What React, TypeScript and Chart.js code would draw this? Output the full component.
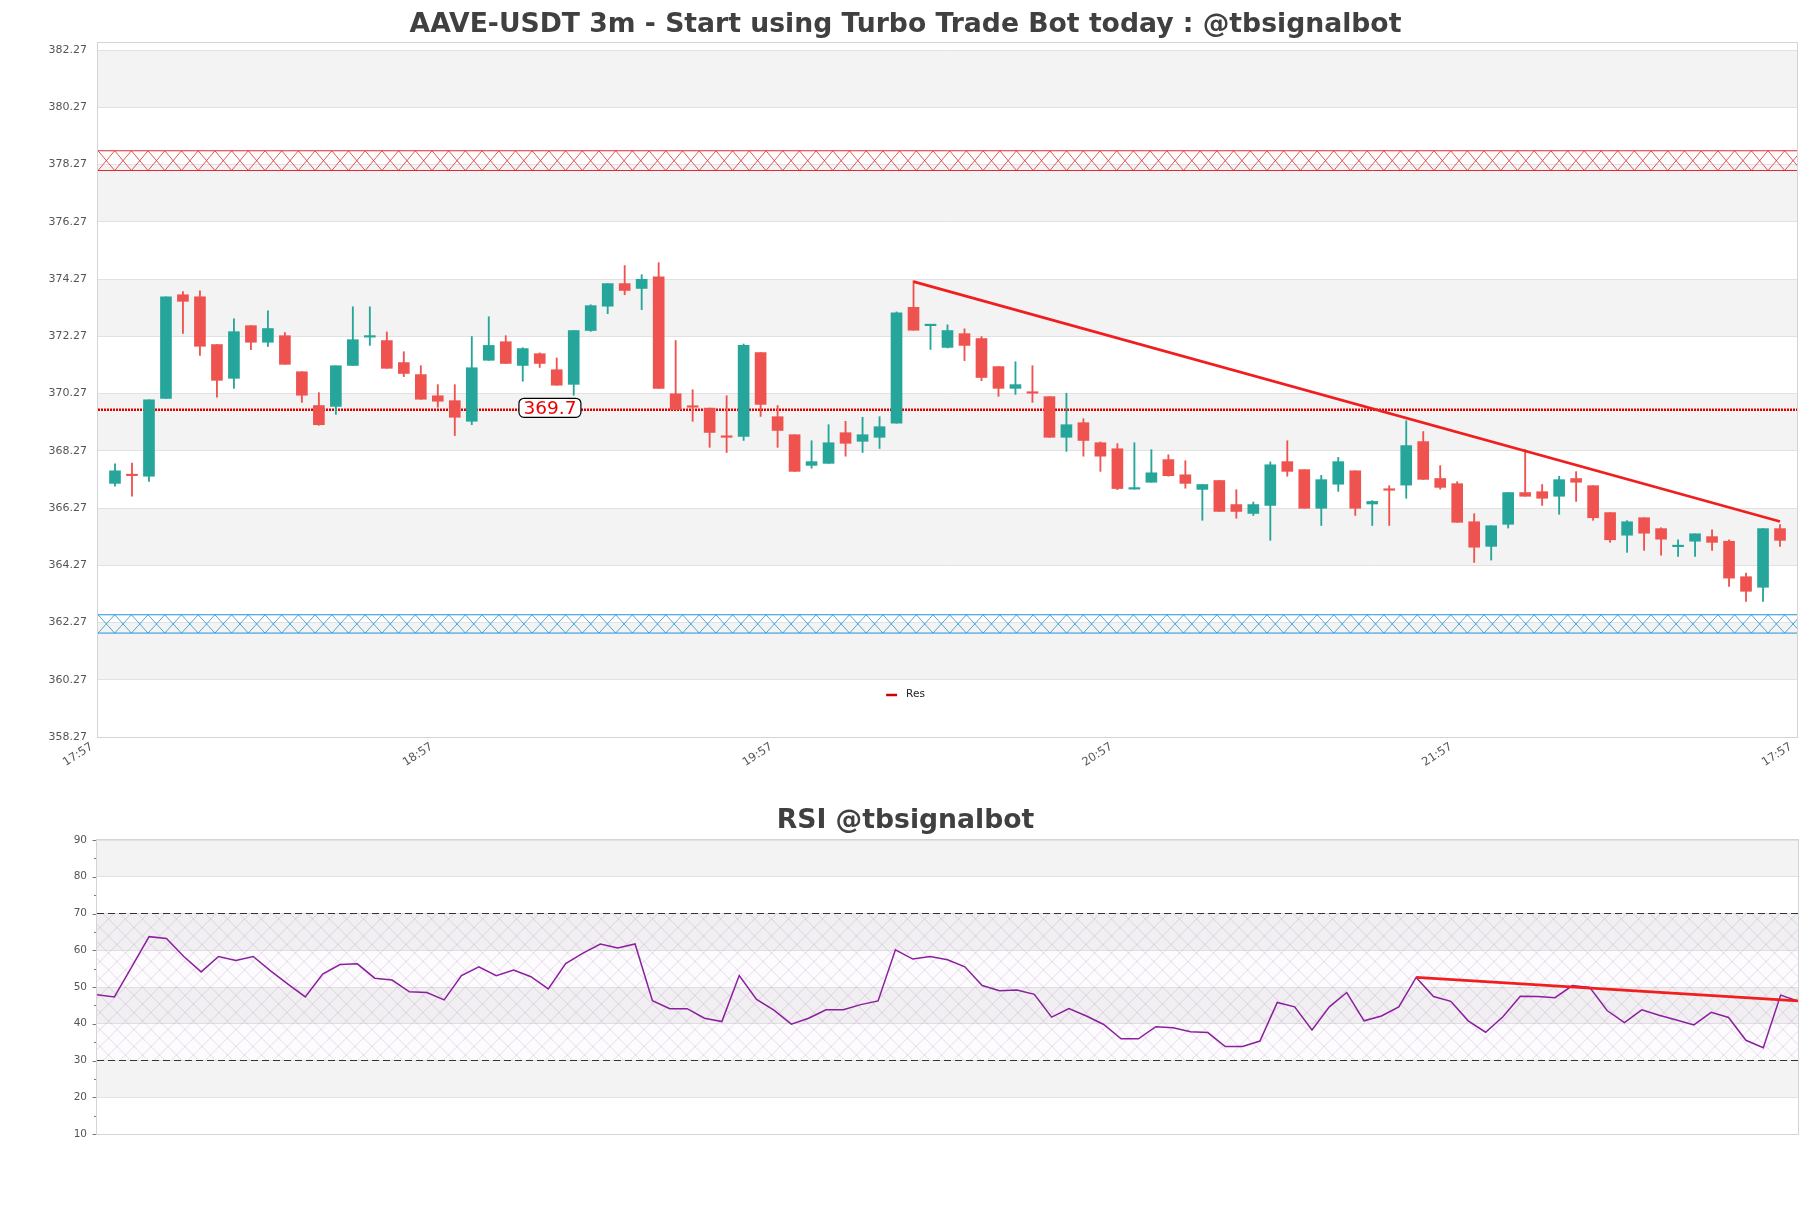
import React, { useEffect, useRef } from "react";
import { Chart, registerables } from "chart.js";

Chart.register(...registerables);

// ---------------- data ----------------
const MAIN_TITLE = "AAVE-USDT 3m - Start using Turbo Trade Bot today : @tbsignalbot";
const RSI_TITLE = "RSI @tbsignalbot";

const X_TICK_LABELS = ["17:57", "18:57", "19:57", "20:57", "21:57", "17:57"];
const X_TICK_STEP = 20;
const X_MAX = 100;
const FIRST_CANDLE_X = 1;

const OPEN = [
  367.13, 367.42, 367.38, 370.10, 373.72, 373.65, 371.98, 370.80, 372.64, 372.06,
  372.29, 371.03, 369.85, 369.82, 371.25, 372.24, 372.12, 371.35, 370.93, 370.19,
  370.02, 369.30, 371.43, 372.08, 371.25, 371.66, 371.10, 370.59, 372.47, 373.32,
  374.11, 373.94, 374.35, 370.26, 369.82, 369.76, 368.76, 368.77, 371.70, 369.46,
  368.83, 367.76, 367.83, 368.90, 368.60, 368.74, 369.23, 373.28, 372.64, 371.88,
  372.36, 372.19, 371.21, 370.45, 370.30, 370.16, 368.74, 369.25, 368.55, 368.34,
  366.93, 367.17, 367.96, 367.43, 366.92, 367.23, 366.39, 366.08, 366.36, 367.89,
  367.61, 366.26, 367.10, 367.57, 366.41, 366.91, 367.07, 368.59, 367.30, 367.12,
  365.79, 364.93, 365.70, 366.81, 366.84, 366.68, 367.30, 367.05, 366.11, 365.32,
  365.93, 365.55, 364.92, 365.11, 365.27, 365.11, 363.87, 363.50, 365.55,
];
const HIGH = [
  367.81, 367.84, 370.05, 373.65, 373.83, 373.86, 371.98, 372.88, 372.64, 373.16,
  372.40, 371.03, 370.30, 371.24, 373.30, 373.30, 372.42, 371.73, 371.24, 370.58,
  370.58, 372.26, 372.95, 372.29, 371.87, 371.69, 371.51, 372.47, 373.37, 374.11,
  374.74, 374.42, 374.84, 372.12, 370.40, 369.76, 370.19, 372.00, 371.70, 369.85,
  368.83, 368.62, 369.18, 369.30, 369.44, 369.46, 373.12, 374.21, 372.66, 372.67,
  372.53, 372.26, 371.21, 371.38, 371.24, 370.16, 370.28, 369.39, 368.58, 368.52,
  368.55, 368.31, 368.13, 367.92, 367.09, 367.23, 366.91, 366.48, 367.88, 368.62,
  367.61, 367.41, 368.04, 367.57, 366.53, 367.05, 369.32, 368.94, 367.75, 367.19,
  366.07, 365.65, 366.81, 368.31, 367.09, 367.38, 367.54, 367.05, 366.11, 365.83,
  365.93, 365.58, 365.16, 365.37, 365.51, 365.16, 364.00, 365.55, 365.69,
];
const LOW = [
  367.03, 366.68, 367.20, 370.10, 372.37, 371.60, 370.14, 370.45, 371.80, 371.91,
  371.29, 369.96, 369.16, 369.54, 371.25, 371.95, 371.15, 370.86, 370.07, 369.79,
  368.80, 369.18, 371.43, 371.32, 370.70, 371.18, 370.56, 370.21, 372.44, 373.06,
  373.72, 373.20, 370.45, 369.71, 369.30, 368.39, 368.21, 368.63, 369.47, 368.39,
  367.55, 367.66, 367.83, 368.08, 368.21, 368.35, 369.23, 372.48, 371.81, 371.86,
  371.42, 370.72, 370.17, 370.24, 369.96, 368.74, 368.25, 368.08, 367.55, 366.91,
  366.93, 367.17, 367.38, 366.96, 365.84, 366.15, 365.91, 366.01, 365.14, 367.38,
  366.26, 365.66, 366.85, 366.01, 365.66, 365.66, 366.61, 367.27, 366.93, 365.77,
  364.37, 364.45, 365.57, 366.68, 366.36, 366.05, 366.50, 365.84, 365.07, 364.72,
  364.79, 364.62, 364.58, 364.58, 364.79, 363.53, 363.01, 363.01, 364.93,
];
const CLOSE = [
  367.57, 367.40, 370.05, 373.65, 373.49, 371.92, 370.73, 372.43, 372.06, 372.54,
  371.29, 370.21, 369.18, 371.24, 372.15, 372.27, 371.15, 370.97, 370.07, 370.00,
  369.44, 371.17, 371.95, 371.32, 371.84, 371.32, 370.56, 372.47, 373.34, 374.11,
  373.87, 374.26, 370.45, 369.71, 369.79, 368.91, 368.74, 371.95, 369.89, 368.98,
  367.55, 367.89, 368.55, 368.53, 368.83, 369.11, 373.09, 372.48, 372.66, 372.47,
  371.95, 370.83, 370.45, 370.58, 370.28, 368.74, 369.18, 368.63, 368.08, 366.95,
  366.96, 367.50, 367.40, 367.13, 367.09, 366.15, 366.15, 366.39, 367.78, 367.55,
  366.26, 367.26, 367.89, 366.26, 366.50, 366.89, 368.45, 367.27, 366.99, 365.77,
  364.90, 365.65, 366.81, 366.68, 366.61, 367.26, 367.17, 365.93, 365.16, 365.79,
  365.39, 365.18, 364.94, 365.37, 365.07, 363.82, 363.36, 365.55, 365.14,
];

const PRICE_TICKS = [
  358.27, 360.27, 362.27, 364.27, 366.27, 368.27, 370.27, 372.27, 374.27, 376.27,
  378.27, 380.27, 382.27,
];
const PRICE_MIN = 358.27;
const PRICE_MAX = 382.515;

const RESISTANCE_ZONE = [378.06, 378.75];
const SUPPORT_ZONE = [361.9, 362.54];
const LEVEL_PRICE = 369.7;
const LEVEL_LABEL = "369.7";
const LEVEL_LABEL_AT = 26.6;
const RES_TREND_X = [48, 99];
const RES_TREND_Y = [374.18, 365.8];
const LEGEND_LABEL = "Res";

const RSI = [
  47.9, 47.3, 55.5, 63.7, 63.2, 58.3, 54.1, 58.3, 57.2, 58.3,
  54.4, 50.8, 47.3, 53.5, 56.1, 56.3, 52.4, 51.9, 48.7, 48.5,
  46.5, 53.1, 55.5, 53.1, 54.6, 52.8, 49.5, 56.4, 59.2, 61.7,
  60.6, 61.7, 46.3, 44.1, 44.1, 41.5, 40.6, 53.1, 46.6, 43.7,
  39.9, 41.5, 43.8, 43.8, 45.2, 46.2, 60.1, 57.6, 58.3, 57.4,
  55.5, 50.4, 49.0, 49.2, 48.0, 41.8, 44.1, 42.1, 39.8, 35.9,
  35.9, 39.2, 38.9, 37.8, 37.6, 33.8, 33.8, 35.3, 45.8, 44.6,
  38.3, 44.6, 48.5, 40.8, 42.1, 44.6, 52.6, 47.4, 46.1, 40.8,
  37.7, 41.9, 47.5, 47.4, 47.1, 50.4, 49.9, 43.6, 40.3, 43.8,
  42.3, 41.0, 39.7, 43.1, 41.7, 35.5, 33.5, 47.8, 46.2,
];
const RSI_TICKS = [10, 20, 30, 40, 50, 60, 70, 80, 90];
const RSI_MINOR_STEP = 5;
const RSI_UPPER = 70;
const RSI_LOWER = 30;
const RSI_TREND_X = [76, 98];
const RSI_TREND_Y = [52.64, 46.2];

// ---------------- styles ----------------
const FONT = '"DejaVu Sans", "Liberation Sans", sans-serif';
const UP = "#26a69a";
const DOWN = "#ef5350";
const BAND = "#f3f3f3";
const GRID = "#e2e2e2";
const BOX = "#d4d4d4";
const TICK_TEXT = "#555555";
const TITLE_COLOR = "#404040";
const W = 1811;
const MAIN_H = 780;
const RSI_H = 1208 - MAIN_H;

function bandsPlugin(ticks: number[]) {
  return {
    id: "bands",
    beforeDraw(chart: any) {
      const { ctx, chartArea: a, scales } = chart;
      const y = scales.y;
      const sorted = [...ticks].sort((p, q) => q - p);
      ctx.save();
      ctx.fillStyle = "#ffffff";
      ctx.fillRect(0, 0, chart.width, chart.height);
      ctx.fillStyle = BAND;
      for (let i = 0; i < sorted.length - 1; i++) {
        if (i % 2 === 0) {
          const t = y.getPixelForValue(sorted[i]);
          const b = y.getPixelForValue(sorted[i + 1]);
          ctx.fillRect(a.left, t, a.right - a.left, b - t);
        }
      }
      ctx.restore();
    },
  };
}

function frameTitlePlugin(title: string, baseline: number) {
  return {
    id: "frameTitle",
    afterDraw(chart: any) {
      const { ctx, chartArea: a } = chart;
      ctx.save();
      ctx.strokeStyle = BOX;
      ctx.lineWidth = 1;
      ctx.strokeRect(Math.round(a.left) - 0.5, Math.round(a.top) - 0.5, Math.round(a.right - a.left) + 1, Math.round(a.bottom - a.top) + 1);
      ctx.fillStyle = TITLE_COLOR;
      ctx.font = `bold 26.65px ${FONT}`;
      ctx.textAlign = "center";
      ctx.textBaseline = "alphabetic";
      ctx.fillText(title, chart.width / 2, baseline);
      ctx.restore();
    },
  };
}

function xZone(ctx: any, a: any, y: any, lo: number, hi: number, color: string) {
  const y0 = y.getPixelForValue(hi);
  const y1 = y.getPixelForValue(lo);
  const tw = 16.7;
  ctx.save();
  ctx.beginPath();
  ctx.rect(a.left, y0, a.right - a.left, y1 - y0);
  ctx.clip();
  ctx.strokeStyle = color;
  ctx.lineWidth = 0.8;
  ctx.beginPath();
  for (let x = a.left - tw; x < a.right + tw; x += tw) {
    ctx.moveTo(x, y0);
    ctx.lineTo(x + tw, y1);
    ctx.moveTo(x, y1);
    ctx.lineTo(x + tw, y0);
  }
  ctx.stroke();
  ctx.restore();
  ctx.save();
  ctx.strokeStyle = color;
  ctx.lineWidth = 1;
  ctx.beginPath();
  ctx.moveTo(a.left, y0);
  ctx.lineTo(a.right, y0);
  ctx.moveTo(a.left, y1);
  ctx.lineTo(a.right, y1);
  ctx.stroke();
  ctx.restore();
}

const zonesPlugin = {
  id: "zones",
  beforeDatasetsDraw(chart: any) {
    const { ctx, chartArea: a, scales } = chart;
    xZone(ctx, a, scales.y, RESISTANCE_ZONE[0], RESISTANCE_ZONE[1], "#e0282d");
    xZone(ctx, a, scales.y, SUPPORT_ZONE[0], SUPPORT_ZONE[1], "#1f93d8");
  },
};

const annotPlugin = {
  id: "annot",
  afterDatasetsDraw(chart: any) {
    const { ctx, chartArea: a, scales } = chart;
    const cx = scales.x.getPixelForValue(LEVEL_LABEL_AT);
    const cy = scales.y.getPixelForValue(LEVEL_PRICE) - 2;
    ctx.save();
    ctx.font = `18.5px ${FONT}`;
    const tw = ctx.measureText(LEVEL_LABEL).width;
    const bw = tw + 9;
    const bh = 19;
    ctx.beginPath();
    ctx.roundRect(cx - bw / 2, cy - bh / 2, bw, bh, 5);
    ctx.fillStyle = "#ffffff";
    ctx.fill();
    ctx.strokeStyle = "#000000";
    ctx.lineWidth = 1.2;
    ctx.stroke();
    ctx.fillStyle = "#ee0000";
    ctx.textAlign = "center";
    ctx.textBaseline = "middle";
    ctx.fillText(LEVEL_LABEL, cx, cy + 1);
    // legend
    ctx.font = `10.5px ${FONT}`;
    const lw = ctx.measureText(LEGEND_LABEL).width;
    const total = 11 + 9 + lw;
    const lx = chart.width / 2 - total / 2;
    const ly = a.bottom - 42;
    ctx.strokeStyle = "#d00000";
    ctx.lineWidth = 2.5;
    ctx.beginPath();
    ctx.moveTo(lx, ly);
    ctx.lineTo(lx + 11, ly);
    ctx.stroke();
    ctx.fillStyle = "#222222";
    ctx.textAlign = "left";
    ctx.textBaseline = "middle";
    ctx.fillText(LEGEND_LABEL, lx + 20, ly - 1);
    ctx.restore();
  },
};

function rsiHatch(ctx: any, a: any, y: any) {
  const y0 = y.getPixelForValue(RSI_UPPER);
  const y1 = y.getPixelForValue(RSI_LOWER);
  const d = 17;
  ctx.save();
  ctx.beginPath();
  ctx.rect(a.left, y0, a.right - a.left, y1 - y0);
  ctx.clip();
  ctx.fillStyle = "rgba(128,0,128,0.015)";
  ctx.fillRect(a.left, y0, a.right - a.left, y1 - y0);
  ctx.strokeStyle = "rgba(150,110,165,0.28)";
  ctx.lineWidth = 0.8;
  ctx.beginPath();
  const h = y1 - y0;
  for (let x = a.left - h - d; x < a.right + h + d; x += d) {
    ctx.moveTo(x, y0);
    ctx.lineTo(x + h, y1);
    ctx.moveTo(x, y1);
    ctx.lineTo(x + h, y0);
  }
  ctx.stroke();
  ctx.restore();
}

const rsiPlugin = {
  id: "rsiExtras",
  beforeDatasetsDraw(chart: any) {
    const { ctx, chartArea: a, scales } = chart;
    rsiHatch(ctx, a, scales.y);
  },
  afterDraw(chart: any) {
    const { ctx, chartArea: a, scales } = chart;
    ctx.save();
    ctx.strokeStyle = "#777777";
    ctx.lineWidth = 1;
    ctx.beginPath();
    for (let v = RSI_TICKS[0]; v <= RSI_TICKS[RSI_TICKS.length - 1]; v += RSI_MINOR_STEP) {
      const py = Math.round(scales.y.getPixelForValue(v)) + 0.5;
      const len = v % 10 === 0 ? 4.5 : 3;
      ctx.moveTo(a.left - len, py);
      ctx.lineTo(a.left, py);
    }
    ctx.stroke();
    ctx.restore();
  },
};

export default function App() {
  const mainRef = useRef<HTMLCanvasElement | null>(null);
  const rsiRef = useRef<HTMLCanvasElement | null>(null);

  useEffect(() => {
    document.body.style.margin = "0";
    document.body.style.overflow = "hidden";
    const xs = OPEN.map((_, i) => i + FIRST_CANDLE_X);
    const colors = OPEN.map((o, i) => (CLOSE[i] >= o ? UP : DOWN));
    const bodies = xs.map((x, i) => ({ x, y: [OPEN[i], CLOSE[i]] }));
    const wicks = xs.map((x, i) => ({ x, y: [LOW[i], HIGH[i]] }));
    const tickFont = { family: FONT, size: 11 };

    const main = new Chart(mainRef.current!, {
      type: "bar",
      data: {
        datasets: [
          {
            type: "line",
            label: LEGEND_LABEL,
            data: RES_TREND_X.map((x, i) => ({ x, y: RES_TREND_Y[i] })),
            borderColor: "#f01e1e",
            borderWidth: 2.7,
            pointRadius: 0,
            order: 0,
          } as any,
          {
            type: "bar",
            label: "body",
            data: bodies,
            backgroundColor: colors,
            borderWidth: 0,
            barThickness: 11,
            grouped: false,
            minBarLength: 1.5,
            order: 1,
          } as any,
          {
            type: "bar",
            label: "wick",
            data: wicks,
            backgroundColor: colors,
            borderWidth: 0,
            barThickness: 1.2,
            grouped: false,
            order: 2,
          } as any,
          {
            type: "line",
            label: "level",
            data: [
              { x: 0, y: LEVEL_PRICE },
              { x: X_MAX, y: LEVEL_PRICE },
            ],
            borderColor: "#e00000",
            borderWidth: 2.6,
            borderDash: [2, 1],
            pointRadius: 0,
            order: 3,
          } as any,
        ],
      },
      options: {
        animation: false,
        responsive: false,
        devicePixelRatio: 1,
        events: [],
        layout: { padding: { top: 43, right: 14, bottom: 0, left: 0 } },
        plugins: { legend: { display: false }, tooltip: { enabled: false }, title: { display: false } },
        scales: {
          x: {
            type: "linear",
            min: 0,
            max: X_MAX,
            offset: false,
            grid: { display: false, offset: false, drawTicks: false },
            border: { display: false },
            ticks: {
              stepSize: X_TICK_STEP,
              autoSkip: false,
              maxRotation: 33,
              minRotation: 33,
              padding: 3,
              labelOffset: -6,
              color: TICK_TEXT,
              font: { family: FONT, size: 11.5 },
              callback: (v: any) => X_TICK_LABELS[Math.round(Number(v) / X_TICK_STEP)] ?? "",
            },
            afterFit: (s: any) => {
              s.height = 43;
            },
          },
          y: {
            type: "linear",
            min: PRICE_MIN,
            max: PRICE_MAX,
            grid: { color: GRID, drawTicks: false, lineWidth: 1 },
            border: { display: false },
            afterBuildTicks: (s: any) => {
              s.ticks = PRICE_TICKS.map((value) => ({ value }));
            },
            ticks: {
              padding: 11,
              color: TICK_TEXT,
              font: tickFont,
              callback: (v: any) => Number(v).toFixed(2),
            },
            afterFit: (s: any) => {
              s.width = 98;
            },
          },
        },
      } as any,
      plugins: [bandsPlugin(PRICE_TICKS), zonesPlugin, annotPlugin, frameTitlePlugin(MAIN_TITLE, 32)],
    });

    const rsi = new Chart(rsiRef.current!, {
      type: "line",
      data: {
        datasets: [
          {
            label: "trend",
            data: RSI_TREND_X.map((x, i) => ({ x, y: RSI_TREND_Y[i] })),
            borderColor: "#f01e1e",
            borderWidth: 2.8,
            pointRadius: 0,
            order: 0,
          },
          {
            label: "RSI",
            data: RSI.map((y, x) => ({ x, y })),
            borderColor: "#8b1f9e",
            borderWidth: 1.5,
            pointRadius: 0,
            tension: 0,
            order: 1,
          },
          {
            label: "upper",
            data: [
              { x: 0, y: RSI_UPPER },
              { x: RSI.length - 1, y: RSI_UPPER },
            ],
            borderColor: "#333333",
            borderWidth: 1.2,
            borderDash: [7, 4],
            pointRadius: 0,
            order: 2,
          },
          {
            label: "lower",
            data: [
              { x: 0, y: RSI_LOWER },
              { x: RSI.length - 1, y: RSI_LOWER },
            ],
            borderColor: "#333333",
            borderWidth: 1.2,
            borderDash: [7, 4],
            pointRadius: 0,
            order: 3,
          },
        ],
      },
      options: {
        animation: false,
        responsive: false,
        devicePixelRatio: 1,
        events: [],
        layout: { padding: { top: 60, right: 13, bottom: 74, left: 0 } },
        plugins: { legend: { display: false }, tooltip: { enabled: false }, title: { display: false } },
        scales: {
          x: {
            type: "linear",
            min: 0,
            max: RSI.length - 1,
            display: false,
          },
          y: {
            type: "linear",
            min: RSI_TICKS[0],
            max: RSI_TICKS[RSI_TICKS.length - 1],
            grid: { color: GRID, drawTicks: false, lineWidth: 1 },
            border: { display: false },
            afterBuildTicks: (s: any) => {
              s.ticks = RSI_TICKS.map((value) => ({ value }));
            },
            ticks: {
              padding: 10,
              color: TICK_TEXT,
              font: { family: FONT, size: 10.5 },
              callback: (v: any) => String(v),
            },
            afterFit: (s: any) => {
              s.width = 97;
            },
          },
        },
      } as any,
      plugins: [bandsPlugin(RSI_TICKS), rsiPlugin, frameTitlePlugin(RSI_TITLE, 47.5)],
    });

    return () => {
      main.destroy();
      rsi.destroy();
    };
  }, []);

  return (
    <div style={{ position: "absolute", left: 0, top: 0, width: W, height: MAIN_H + RSI_H, background: "#ffffff" }}>
      <canvas
        ref={mainRef}
        width={W}
        height={MAIN_H}
        style={{ position: "absolute", left: 0, top: 0, width: W, height: MAIN_H }}
      />
      <canvas
        ref={rsiRef}
        width={W}
        height={RSI_H}
        style={{ position: "absolute", left: 0, top: MAIN_H, width: W, height: RSI_H }}
      />
    </div>
  );
}
